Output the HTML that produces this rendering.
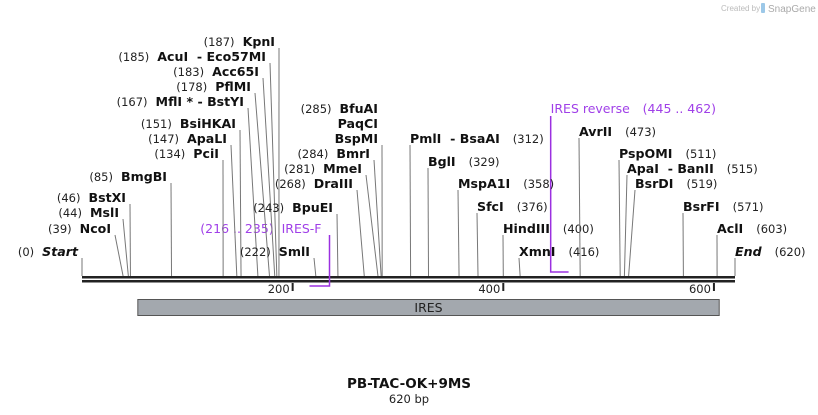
<!DOCTYPE html>
<html><head><meta charset="utf-8"><style>
html,body{margin:0;padding:0;background:#fff;}
svg{display:block;font-family:"DejaVu Sans","Liberation Sans",sans-serif;}
.nm{font-weight:bold;font-size:12.6px;fill:#111;}
.num{font-size:11.5px;fill:#222;}
</style></head><body>
<svg id="map" width="818" height="415" viewBox="0 0 818 415" xmlns="http://www.w3.org/2000/svg">
<text x="721" y="11" font-size="8" fill="#bbb" font-family="Liberation Sans, sans-serif">Created by</text>
<rect x="761" y="3" width="4" height="10" rx="1" fill="#9cc8e8"/>
<text x="768" y="12" font-size="10" fill="#aaa" font-family="Liberation Sans, sans-serif">SnapGene</text>
<g id="g"></g>
</svg>
<script>
// sequence data
var seqLength = 620;
var siteNames = ["Start","NcoI","MslI","BstXI","BmgBI","PciI","ApaLI","BsiHKAI","MflI * - BstYI","PflMI","Acc65I","AcuI  - Eco57MI","KpnI","SmlI","BpuEI","DraIII","MmeI","BmrI","BspMI","PmlI  - BsaAI","BglI","MspA1I","SfcI","HindIII","XmnI","AvrII","PspOMI","ApaI  - BanII","BsrDI","BsrFI","AclI","End"];
var sitePositions = [0,39,44,46,85,134,147,151,167,178,183,185,187,222,243,268,281,284,285,312,329,358,376,400,416,473,511,515,519,571,603,620];
var tickValues = [200,400,600];
var primerNames = ["IRES-F","IRES reverse"];
var primerStarts = [216,445];
var primerEnds = [235,462];
var featureNames = ["IRES"];
var featureStarts = [53];
var featureEnds = [605];

// layout (label anchor x, label center y, side)
var labelLayout = [
 [78,252,"L"],[111,229,"L"],[119,213,"L"],[126,198,"L"],[167,177,"L"],[219,154,"L"],[227,139,"L"],[236,124,"L"],[244,102,"L"],[251,87,"L"],[259,72,"L"],[266,57,"L"],[275,42,"L"],
 [310,252,"L"],[333,208,"L"],[353,184,"L"],[362,169,"L"],[370,154,"L"],[378,139,"L"],
 [410,139,"R"],[428,162,"R"],[458,184,"R"],[477,207,"R"],[503,229,"R"],[519,252,"R"],[579,132,"R"],[619,154,"R"],[627,169,"R"],[635,184,"R"],[683,207,"R"],[717,229,"R"],[735,252,"R"]
];
var NS="http://www.w3.org/2000/svg";
var g=document.getElementById('g');
function X(bp){return 82+bp*(653/620);}
function mk(t,a){var e=document.createElementNS(NS,t);for(var k in a)e.setAttribute(k,a[k]);g.appendChild(e);return e;}
var BY=276;
var b1=mk('rect',{x:X(0),y:276,width:X(seqLength)-X(0),height:2.5,fill:'#222'});


var b2=mk('rect',{x:X(0),y:280,width:X(seqLength)-X(0),height:2.5,fill:'#222'});


tickValues.forEach(function(v){
 var t=mk('rect',{x:X(v)-1,y:283,width:2,height:8,fill:'#222'});
 
 
 var l=mk('text',{x:X(v)-3,y:293,'text-anchor':'end','font-size':11.5,fill:'#222'});l.textContent=v;
 
 
});
featureNames.forEach(function(n,i){
 var r=mk('rect',{x:X(featureStarts[i]),y:299.5,width:X(featureEnds[i])-X(featureStarts[i]),height:16,fill:'#a3a8ae',stroke:'#555','stroke-width':1});
 
 
 var t=mk('text',{x:(X(featureStarts[i])+X(featureEnds[i]))/2,y:312,'text-anchor':'middle','font-size':12.5,fill:'#222'});t.textContent=n;
 
 
});
(function(){
 var p0x1=X(primerStarts[0]),p0x2=X(primerEnds[0]);
 var pl=mk('polyline',{points:p0x1+',286 '+p0x2+',286 '+p0x2+',235',fill:'none',stroke:'#9b30e0','stroke-width':1.5});
 
 
 var t=mk('text',{x:p0x2-8,y:233,'text-anchor':'end','font-size':12.5,fill:'#a040e8'});
 t.setAttribute('style','white-space:pre');
 t.textContent='('+primerStarts[0]+' .. '+primerEnds[0]+')  '+primerNames[0];
 
 
 var q1=X(primerStarts[1]),q2=X(primerEnds[1]);
 var pr=mk('polyline',{points:q1+',116 '+q1+',272 '+q2+',272',fill:'none',stroke:'#9b30e0','stroke-width':1.5});
 
 
 var t2=mk('text',{x:q1,y:113,'font-size':12.5,fill:'#a040e8'});t2.textContent=primerNames[1];
 
 
 var t3=mk('text',{x:q1+92,y:113,'font-size':12.5,fill:'#a040e8'});t3.textContent='('+primerStarts[1]+' .. '+primerEnds[1]+')';
 
 
})();
siteNames.forEach(function(n,i){
 var L=labelLayout[i],sx=X(sitePositions[i]);
 var italic=(n==='Start'||n==='End');
 var ly=L[1]+6;
 var ln=mk('line',{x1:L[2]==='L'?L[0]+4:L[0],y1:ly,x2:sx,y2:BY,stroke:'#777','stroke-width':1});
 
 
 var nm=mk('text',{x:L[0],y:L[1]+4,'class':'nm','text-anchor':L[2]==='L'?'end':'start'});
 nm.setAttribute('style','white-space:pre'+(italic?';font-style:italic':''));
 nm.textContent=n;
 
 
 if(n==='BspMI') return;
 var w=nm.getComputedTextLength();
 var num=mk('text',{'class':'num',y:L[1]+4});
 num.textContent='('+sitePositions[i]+')';
 if(L[2]==='L'){num.setAttribute('x',L[0]-w-8);num.setAttribute('text-anchor','end');}
 else{num.setAttribute('x',L[0]+w+13);}
 
 
});
[["PaqCI",124],["BfuAI",109]].forEach(function(p){
 var t=mk('text',{x:378,y:p[1]+4,'class':'nm','text-anchor':'end'});t.textContent=p[0];
 
 
 if(p[0]==='BfuAI'){var w=t.getComputedTextLength();var n=mk('text',{x:378-w-8,y:p[1]+4,'class':'num','text-anchor':'end'});n.textContent='(285)';
 
 }
});
var tt=mk('text',{x:409,y:388,'text-anchor':'middle','font-size':13.5,'font-weight':'bold',fill:'#111'});tt.textContent='PB-TAC-OK+9MS';


var st=mk('text',{x:409,y:403,'text-anchor':'middle','font-size':11.5,fill:'#222'});st.textContent=seqLength+' bp';


</script>
</body></html>
